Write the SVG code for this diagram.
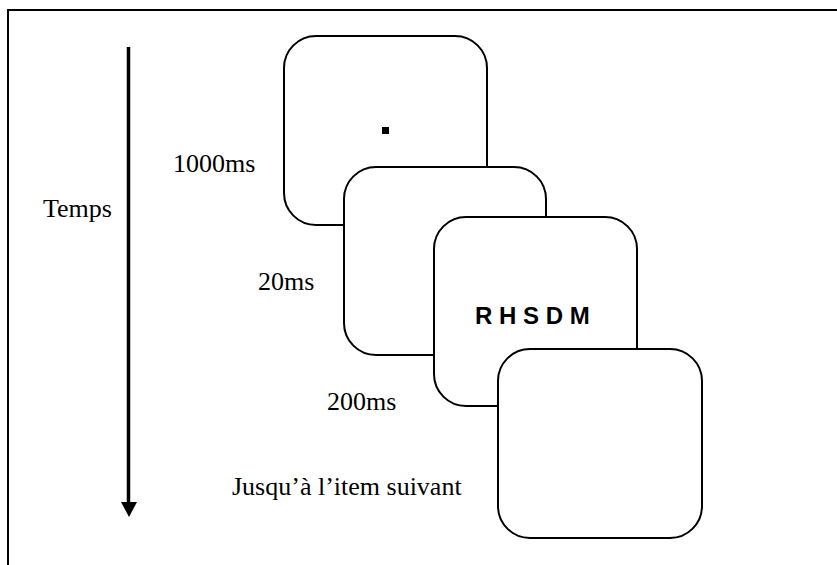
<svg xmlns="http://www.w3.org/2000/svg" width="837" height="565" viewBox="0 0 837 565">
<style>
.screen{fill:#fff;stroke:#000;stroke-width:2}
.lbl{font-family:"Liberation Serif","Times New Roman",serif;font-size:26px;fill:#000}
.stim{font-family:"Liberation Sans",Arial,sans-serif;font-size:24px;font-weight:bold;fill:#000}
</style>
<rect x="0" y="0" width="837" height="565" fill="#fff"/>
<rect x="8" y="10" width="840" height="570" fill="none" stroke="#000" stroke-width="2"/>
<g id="connectors">
<line x1="128.5" y1="47" x2="128.5" y2="503" stroke="#000" stroke-width="3.5"/>
<polygon points="121,502 137,502 129,517" fill="#000"/>
</g>
<g id="temps"><text class="lbl" x="43" y="217">Temps</text></g>
<g id="screen1">
<rect class="screen" x="284" y="36" width="203" height="189" rx="32" ry="32"/>
<rect x="382" y="127" width="7" height="7" fill="#000"/>
</g>
<g id="screen2"><rect class="screen" x="344" y="167" width="202" height="188" rx="32" ry="32"/></g>
<g id="screen3">
<rect class="screen" x="434" y="217" width="203" height="189" rx="32" ry="32"/>
<text class="stim" x="475" y="324" xml:space="preserve">R H S D M</text>
</g>
<g id="screen4"><rect class="screen" x="498" y="349" width="204" height="189" rx="32" ry="32"/></g>
<g id="labels">
<text class="lbl" x="173" y="172">1000ms</text>
<text class="lbl" x="258" y="290">20ms</text>
<text class="lbl" x="327" y="410">200ms</text>
<text class="lbl" x="232" y="495">Jusqu’à l’item suivant</text>
</g>
</svg>
